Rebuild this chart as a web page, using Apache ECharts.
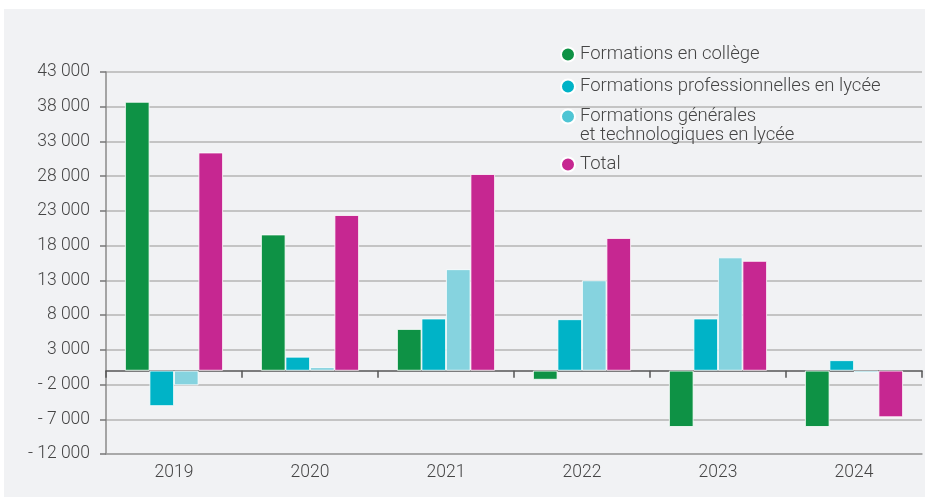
<!DOCTYPE html>
<html>
<head>
<meta charset="utf-8">
<script src="https://cdn.jsdelivr.net/npm/echarts@6/dist/echarts.min.js"></script>
<style>
  html, body { margin: 0; padding: 0; background: #fff; }
  #chart { width: 925px; height: 499px; }
</style>
</head>
<body>
<div id="chart"></div>
<script>
// années
var years = ["2019", "2020", "2021", "2022", "2023", "2024"];
// séries
var college = [38700, 19600, 6000, -1300, -8100, -8100];
var proLycee = [-5100, 2000, 7500, 7400, 7500, 1500];
var genLycee = [-2100, 500, 14600, 13000, 16300, -300];
var total = [31400, 22400, 28300, 19100, 15800, -6700];
var names = ["Formations en collège", "Formations professionnelles en lycée",
	"Formations générales\net technologiques en lycée", "Total"];
var colors = ["#0e9245", "#00b3c7", "#86d3df", "#c62791"];

var font = "Roboto";
var fSize = 17.5;
var txtColor = "#454545";

// format "43 000", "- 2 000"
function fmt(v){
	var s = String(Math.abs(v)).replace(/\B(?=(\d{3})+(?!\d))/g, " ");
	return v < 0 ? "- " + s : s;
}

var myChart = echarts.init(document.getElementById("chart"));

function bar(i, data){
	return {
		name: names[i],
		type: "bar",
		data: data,
		barWidth: 24.5,
		barGap: "0%",
		itemStyle: { color: colors[i], borderColor: "#ffffff", borderWidth: 0.8 }
	};
}

var legendCommon = {
	orient: "vertical",
	left: 560,
	padding: 0,
	icon: "circle",
	itemWidth: 14,
	itemHeight: 14,
	itemGap: 13,
	selectedMode: false,
	textStyle: { fontFamily: font, fontWeight: 300, fontSize: 18.5, lineHeight: 19, color: txtColor }
};

var option = {
	backgroundColor: "#ffffff",
	animation: false,
	graphic: [{
		type: "rect", z: -10, silent: true,
		shape: { x: 4, y: 9, width: 921, height: 488 },
		style: { fill: "#f1f2f4" }
	}],
	grid: { left: 106, right: 3, top: 72, bottom: 45, containLabel: false },
	xAxis: [{
		// axe des libellés, en bas
		type: "category",
		data: years,
		position: "bottom",
		axisLine: { onZero: false, show: true, lineStyle: { color: "#a0a0a0", width: 1.5 } },
		axisTick: { show: false },
		axisLabel: { fontFamily: font, fontWeight: 300, fontSize: fSize, color: txtColor, margin: 10 }
	}, {
		// axe du zéro, graduations vers le bas
		type: "category",
		data: years,
		position: "bottom",
		axisLine: { onZero: true, onZeroAxisIndex: 0, lineStyle: { color: "#555", width: 1.5 } },
		axisTick: { show: true, length: 7, lineStyle: { color: "#555", width: 1.5 } },
		axisLabel: { show: false }
	}, {
		// graduations vers le haut
		type: "category",
		data: years,
		position: "top",
		axisLine: { onZero: true, onZeroAxisIndex: 0, show: false },
		axisTick: { show: true, inside: true, length: 7, lineStyle: { color: "#555", width: 1.5 } },
		axisLabel: { show: false }
	}],
	yAxis: {
		type: "value",
		min: -12000,
		max: 43000,
		interval: 5000,
		axisLine: { show: true, lineStyle: { color: "#8a8a8a", width: 1.5 } },
		axisTick: { show: true, length: 6, lineStyle: { color: "#777", width: 1.5 } },
		splitLine: { lineStyle: { color: "#b4b4b4", width: 1.5 } },
		axisLabel: { fontFamily: font, fontWeight: 300, fontSize: fSize, color: txtColor, margin: 16,
			formatter: fmt }
	},
	series: [bar(0, college), bar(1, proLycee), bar(2, genLycee), bar(3, total)]
};

// trois légendes pour placer l'item sur deux lignes comme l'original
option.legend = [
	Object.assign({}, legendCommon, { top: 45, data: [names[0], names[1]] }),
	Object.assign({}, legendCommon, { top: 88, data: [{ name: names[2], itemStyle: { color: "#4fc5d4" } }],
		// ligne vide au-dessus : la pastille tombe sur la première ligne
		formatter: function(name){ return " \n" + name; } }),
	Object.assign({}, legendCommon, { top: 155, data: [names[3]] })
];

myChart.setOption(option);
</script>
</body>
</html>
